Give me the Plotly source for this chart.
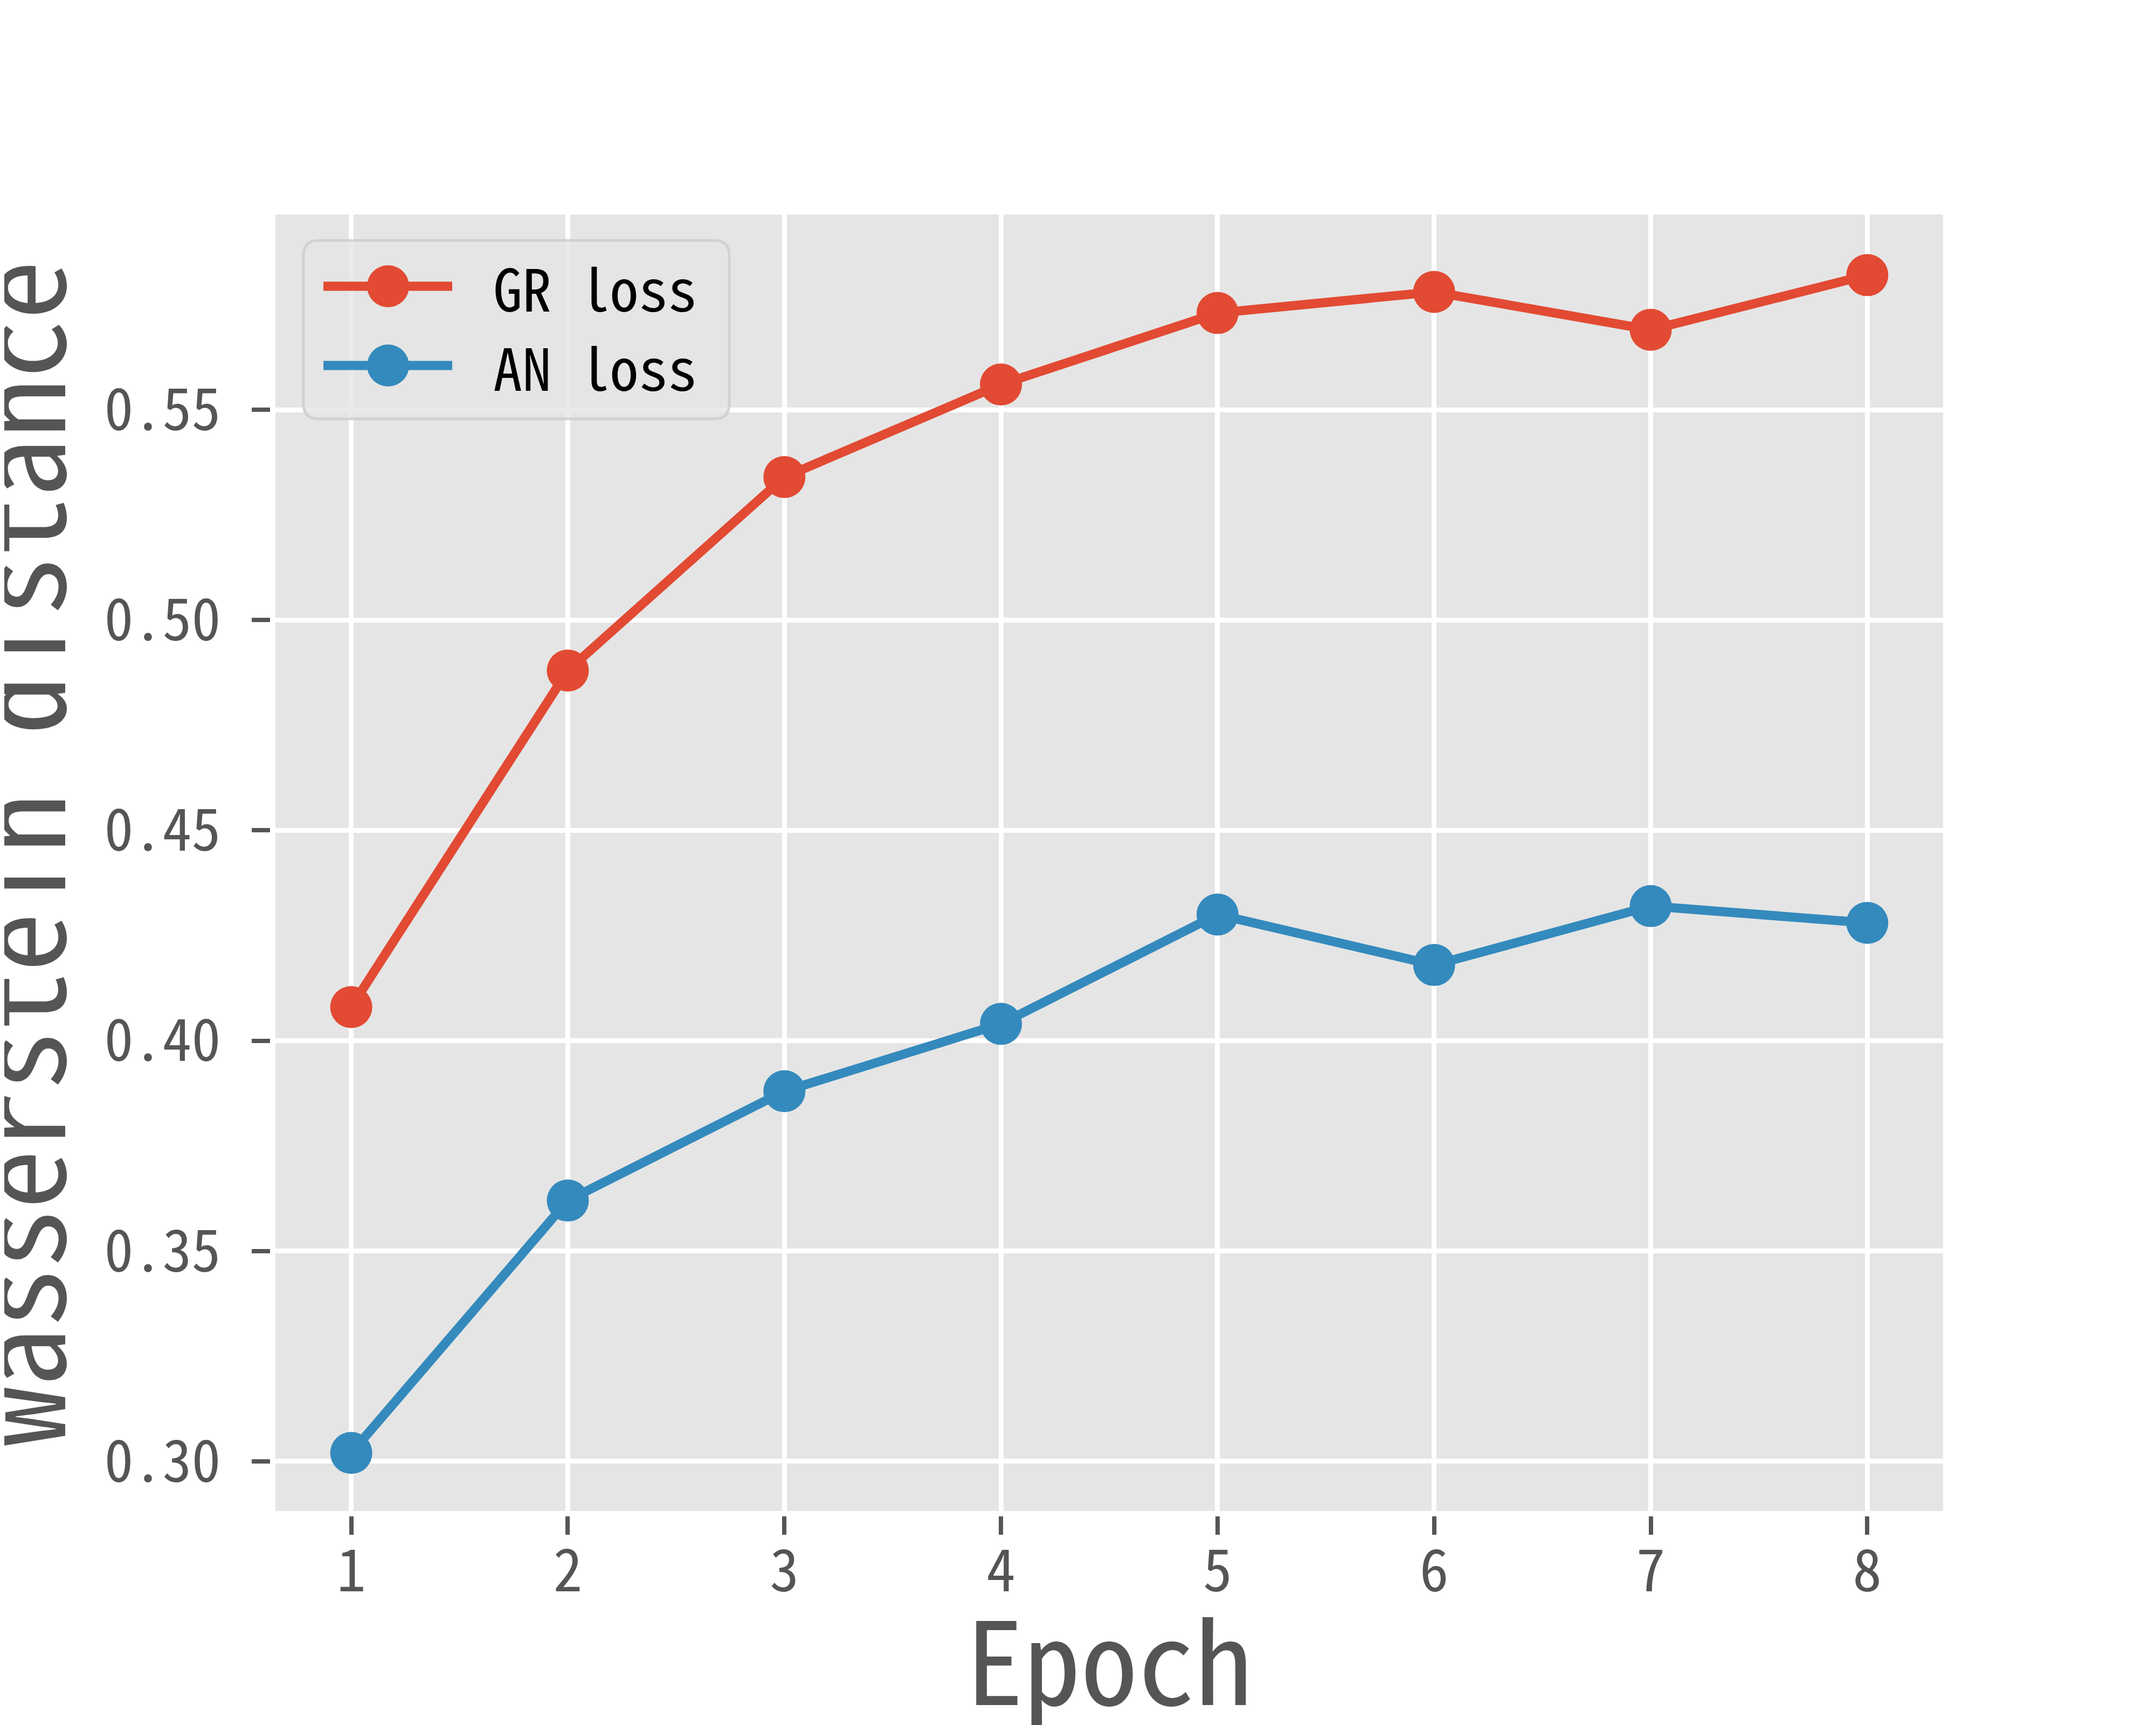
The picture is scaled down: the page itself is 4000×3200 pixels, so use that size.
import plotly.graph_objects as go

EPOCHS = [1, 2, 3, 4, 5, 6, 7, 8]
GR_LOSS = [0.408, 0.488, 0.534, 0.556, 0.573, 0.578, 0.569, 0.582]
AN_LOSS = [0.302, 0.362, 0.388, 0.404, 0.430, 0.418, 0.432, 0.428]
SERIES_NAMES = ["GR loss", "AN loss"]
SERIES_COLORS = ["#E24A33", "#348ABD"]
Y_TICKS = [0.30, 0.35, 0.40, 0.45, 0.50, 0.55]
Y_TICK_TEXT = ["0.30", "0.35", "0.40", "0.45", "0.50", "0.55"]
X_LABEL = "Epoch"
Y_LABEL = "wasserstein distance"

W, H = 4000, 3200
L, R, T, B = 503, 403, 390, 405
PW, PH = W - L - R, H - T - B

FONT = "Noto Sans Mono CJK SC, DejaVu Sans Mono, monospace"
GREY = "#555555"


def px_x(px):
    return (px - L) / PW


def px_y(py):
    return (H - B - py) / PH


fig = go.Figure()
for name, ys, color in zip(SERIES_NAMES, [GR_LOSS, AN_LOSS], SERIES_COLORS):
    fig.add_trace(
        go.Scatter(
            x=EPOCHS,
            y=ys,
            name=name,
            mode="lines+markers",
            line=dict(color=color, width=17),
            marker=dict(color=color, size=78),
            showlegend=False,
        )
    )

# hand-built legend box (matplotlib style, big symbols)
x0, x1, y0, y1 = px_x(555), px_x(1345), px_y(769), px_y(438)
rx, ry = 28 / PW, 28 / PH
box_path = (
    f"M{x0 + rx},{y0} L{x1 - rx},{y0} Q{x1},{y0} {x1},{y0 + ry} "
    f"L{x1},{y1 - ry} Q{x1},{y1} {x1 - rx},{y1} "
    f"L{x0 + rx},{y1} Q{x0},{y1} {x0},{y1 - ry} "
    f"L{x0},{y0 + ry} Q{x0},{y0} {x0 + rx},{y0} Z"
)
fig.add_shape(
    type="path",
    path=box_path,
    xref="paper",
    yref="paper",
    fillcolor="rgba(229,229,229,0.8)",
    line=dict(color="rgba(204,204,204,0.8)", width=5),
    layer="above",
)
for i, (name, color) in enumerate(zip(SERIES_NAMES, SERIES_COLORS)):
    cy = px_y(523 + i * 147)
    fig.add_shape(
        type="line",
        xref="paper",
        yref="paper",
        x0=px_x(592),
        x1=px_x(831),
        y0=cy,
        y1=cy,
        line=dict(color=color, width=17),
        layer="above",
    )
    fig.add_shape(
        type="circle",
        xref="paper",
        yref="paper",
        xsizemode="pixel",
        ysizemode="pixel",
        xanchor=px_x(712),
        yanchor=cy,
        x0=-39,
        x1=39,
        y0=-39,
        y1=39,
        fillcolor=color,
        line=dict(width=0),
        layer="above",
    )
    fig.add_annotation(
        x=px_x(905),
        y=cy,
        xref="paper",
        yref="paper",
        text=name,
        showarrow=False,
        xanchor="left",
        yanchor="middle",
        font=dict(family=FONT, size=108, color="black"),
    )

# axis titles
fig.add_annotation(
    x=px_x(2050),
    y=px_y(3062),
    xref="paper",
    yref="paper",
    text=X_LABEL,
    showarrow=False,
    xanchor="center",
    yanchor="middle",
    font=dict(family=FONT, size=212, color=GREY),
)
fig.add_annotation(
    x=px_x(178),
    y=px_y(1575),
    xref="paper",
    yref="paper",
    text=Y_LABEL,
    textangle=-90,
    showarrow=False,
    xanchor="right",
    yanchor="middle",
    font=dict(family=FONT, size=220, color=GREY),
)

axis_common = dict(
    automargin=False,
    showgrid=True,
    gridcolor="white",
    gridwidth=9,
    zeroline=False,
    ticks="outside",
    ticklen=34,
    tickwidth=8,
    tickcolor=GREY,
    showline=True,
    linecolor="white",
    linewidth=10,
    tickfont=dict(family=FONT, size=108, color=GREY),
)

fig.update_xaxes(
    **axis_common,
    range=[0.65, 8.35],
    tickmode="array",
    tickvals=EPOCHS,
    ticktext=[str(e) for e in EPOCHS],
    ticklabelstandoff=-25,
)
fig.update_yaxes(
    **axis_common,
    range=[0.2882, 0.5964],
    tickmode="array",
    tickvals=Y_TICKS,
    ticktext=Y_TICK_TEXT,
    ticklabelstandoff=36,
)

fig.update_layout(
    width=W,
    height=H,
    margin=dict(l=L, r=R, t=T, b=B),
    plot_bgcolor="#E5E5E5",
    paper_bgcolor="white",
    font=dict(family=FONT, color=GREY),
)

fig.write_html("out.html")
